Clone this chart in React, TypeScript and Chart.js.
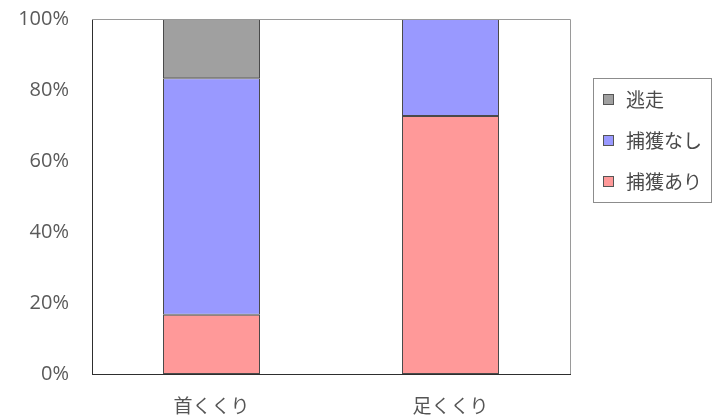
import React, { useEffect, useRef } from "react";
import { Chart, registerables } from "chart.js";

Chart.register(...registerables);

// Trap type categories
const categories: string[] = ["首くくり", "足くくり"];

// Share of outcomes per trap type (percent)
const capturedPct: number[] = [16.7, 72.7]; // 捕獲あり
const notCapturedPct: number[] = [66.6, 27.3]; // 捕獲なし
const escapedPct: number[] = [16.7, 0]; // 逃走

const seriesLabels: string[] = ["捕獲あり", "捕獲なし", "逃走"];
const seriesColors: string[] = ["#ff9999", "#9999ff", "#a0a0a0"];

const yTicks: number[] = [0, 20, 40, 60, 80, 100];

const JP_FONT = '"Noto Sans CJK JP", "Noto Sans", sans-serif';
const NUM_FONT = '"Open Sans", "Noto Sans", sans-serif';

// Draws the thin frame around the plot area and the boxed legend on the right
const frameAndLegend = {
  id: "frameAndLegend",
  afterDraw(chart: Chart) {
    const { ctx, chartArea } = chart;
    ctx.save();
    // top and right edges of the plot frame
    ctx.strokeStyle = "#9a9a9a";
    ctx.lineWidth = 1;
    ctx.beginPath();
    ctx.moveTo(chartArea.left, Math.round(chartArea.top) + 0.5);
    ctx.lineTo(Math.round(chartArea.right) + 0.5, Math.round(chartArea.top) + 0.5);
    ctx.lineTo(Math.round(chartArea.right) + 0.5, chartArea.bottom);
    ctx.stroke();

    // legend box
    const boxX = chartArea.right + 23;
    const boxY = 78;
    const boxW = 118;
    const boxH = 124;
    ctx.strokeStyle = "#8c8c8c";
    ctx.strokeRect(Math.round(boxX) + 0.5, boxY + 0.5, boxW, boxH);

    const datasets = chart.data.datasets;
    const order = datasets.map((_, i) => i).reverse();
    ctx.font = `19px ${JP_FONT}`;
    ctx.textBaseline = "middle";
    ctx.textAlign = "left";
    order.forEach((dsIndex, row) => {
      const ds = datasets[dsIndex] as any;
      const cy = boxY + 21 + row * 41;
      const sx = Math.round(boxX) + 10;
      ctx.fillStyle = ds.backgroundColor;
      ctx.fillRect(sx, cy - 5, 11, 11);
      ctx.strokeStyle = "#555555";
      ctx.strokeRect(sx + 0.5, cy - 4.5, 10, 10);
      ctx.fillStyle = "#4a4a4a";
      ctx.fillText(String(ds.label), sx + 23, cy + 1);
    });
    ctx.restore();
  },
};

export default function App() {
  const canvasRef = useRef<HTMLCanvasElement | null>(null);

  useEffect(() => {
    document.body.style.margin = "0";
    const canvas = canvasRef.current;
    if (!canvas) return;
    const valueSets = [capturedPct, notCapturedPct, escapedPct];
    const chart = new Chart(canvas, {
      type: "bar",
      data: {
        labels: categories,
        datasets: valueSets.map((vals, i) => ({
          label: seriesLabels[i],
          data: vals,
          backgroundColor: seriesColors[i],
          borderColor: "#4a4a4a",
          borderWidth: 1,
          borderSkipped: false,
          categoryPercentage: 1,
          barPercentage: 97 / 239,
        })),
      },
      options: {
        animation: false,
        responsive: false,
        devicePixelRatio: 1,
        layout: { padding: { top: 19, right: 153, bottom: 0, left: 0 } },
        plugins: {
          legend: { display: false },
          tooltip: { enabled: false },
        },
        scales: {
          x: {
            stacked: true,
            grid: { display: false, drawTicks: false },
            border: { display: true, color: "#2e2e2e", width: 1 },
            ticks: {
              padding: 20,
              color: "#555555",
              font: { family: JP_FONT, size: 19 },
            },
            afterFit: (scale: any) => {
              scale.height = 46;
            },
          },
          y: {
            stacked: true,
            min: 0,
            max: 100,
            afterBuildTicks: (scale: any) => {
              scale.ticks = yTicks.map((v) => ({ value: v }));
            },
            grid: { display: false, drawTicks: false },
            border: { display: true, color: "#2e2e2e", width: 1 },
            ticks: {
              padding: 23,
              color: "#5a5a5a",
              font: { family: NUM_FONT, size: 20 },
              callback: (v: any) => `${v}%`,
            },
            afterFit: (scale: any) => {
              scale.width = 92;
              scale.paddingTop = 0;
              scale.paddingBottom = 0;
            },
          },
        },
      },
      plugins: [frameAndLegend],
    });
    return () => chart.destroy();
  }, []);

  return (
    <div style={{ width: 723, height: 420, background: "#ffffff" }}>
      <canvas ref={canvasRef} width={723} height={420} />
    </div>
  );
}
